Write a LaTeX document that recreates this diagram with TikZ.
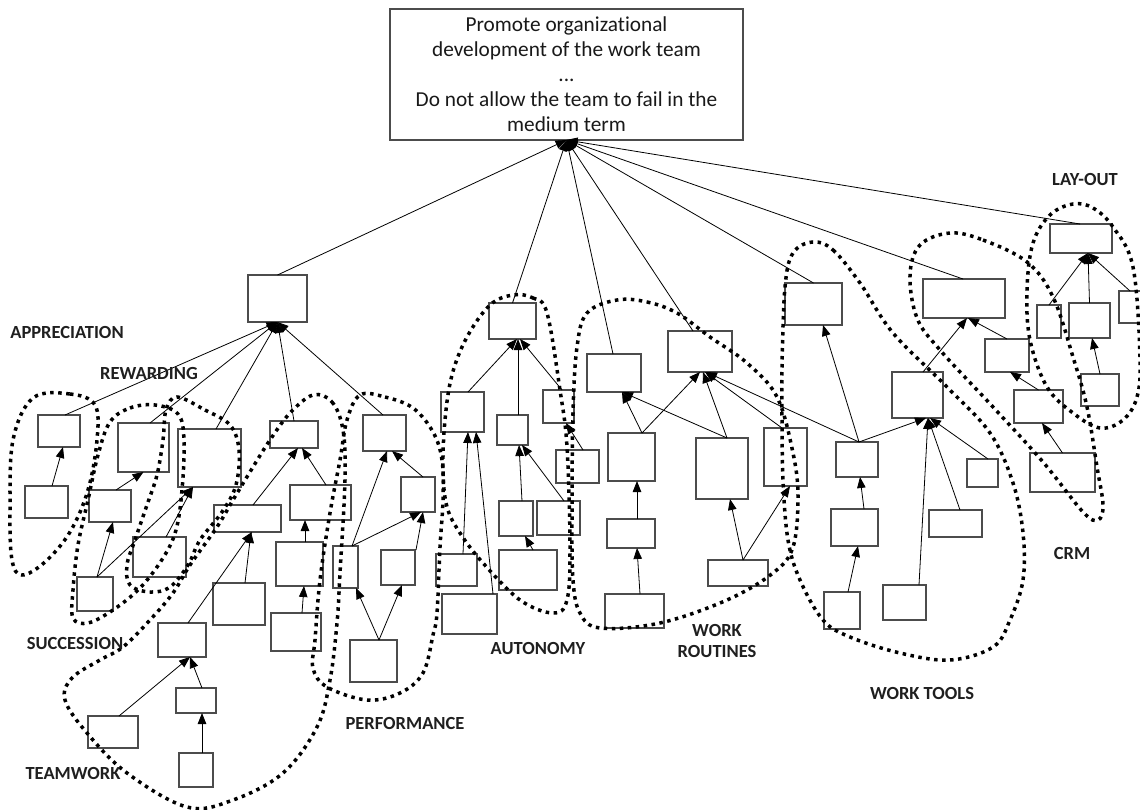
\documentclass[tikz,border=0pt]{standalone}
\usepackage{fontspec}
\setmainfont{Carlito}[Ligatures=NoCommon]
\usetikzlibrary{arrows.meta}
\newcommand{\bx}[5]{\node[bx,minimum width={(#4)-(#2)},minimum height={(#5)-(#3)}] (#1) at ({((#2)+(#4))/2},{((#3)+(#5))/2}) {};}
\newcommand{\ed}[4]{\draw[conn] ([xshift=#2pt]#1.north) -- ([xshift=#4pt]#3.south);}
\begin{document}
\begin{tikzpicture}[x=1pt,y=-1pt,
  bx/.style={draw=black!70,line width=1.1pt,fill=white,inner sep=0pt,outer sep=0pt},
  conn/.style={-{Triangle[length=11pt,width=8.5pt]},line width=0.8pt,black},
  loopline/.style={line width=3.5pt,dash pattern=on 3.5pt off 4.5pt,black},
  lbl/.style={font=\bfseries\fontsize{18.5}{21.5}\selectfont,text=black!88,align=center}]
\useasboundingbox (0,0) rectangle (1140,810);
% top box
\node[bx,minimum width=353,minimum height=131,align=center,font=\fontsize{21.3}{25}\selectfont,text=black!90] (T) at (566.5,74.5)
 {Promote organizational\\development of the work team\\...\\Do not allow the team to fail in the\\medium term};
% boxes
\bx{A0}{248}{275}{307}{322}
\bx{B1}{38}{415}{80}{447}
\bx{B2}{25}{486}{68}{518}
\bx{B3}{118}{423}{169}{472}
\bx{B4}{178}{429}{241}{487}
\bx{B5}{270}{421}{318}{448}
\bx{B6}{89}{490}{131}{522}
\bx{B7}{214}{505}{281}{532}
\bx{B8}{290}{485}{351}{520}
\bx{B9}{276}{542}{323}{586}
\bx{B10}{133}{537}{186}{577}
\bx{B11}{77}{577}{113}{611}
\bx{B12}{271}{613}{321}{651}
\bx{T1}{213}{583}{265}{625}
\bx{T2}{158}{623}{206}{657}
\bx{T3}{176}{688}{216}{713}
\bx{T4}{88}{716}{138}{748}
\bx{T5}{179}{753}{213}{787}
\bx{P0}{363}{415}{406}{451}
\bx{P1}{401}{477}{435}{512}
\bx{P2}{333}{546}{358}{588}
\bx{P3}{381}{550}{415}{585}
\bx{P4}{350}{640}{397}{682}
\bx{U0}{489}{303}{536}{339}
\bx{U1}{441}{392}{484}{432}
\bx{U2}{497}{415}{528}{445}
\bx{U3}{543}{390}{574}{423}
\bx{U4}{556}{450}{599}{483}
\bx{U5}{499}{501}{533}{536}
\bx{U6}{537}{501}{580}{535}
\bx{U7}{499}{550}{557}{590}
\bx{U8}{436}{554}{477}{586}
\bx{U9}{442}{594}{497}{634}
\bx{R0}{587}{354}{641}{392}
\bx{R1}{668}{331}{732}{372}
\bx{R2}{608}{433}{655}{481}
\bx{R3}{696}{438}{748}{499}
\bx{R4}{764}{428}{807}{486}
\bx{R5}{607}{519}{655}{548}
\bx{R6}{605}{594}{664}{628}
\bx{R7}{708}{560}{768}{586}
\bx{W0}{785}{283}{842}{325}
\bx{W1}{836}{442}{878}{477}
\bx{W2}{892}{372}{943}{418}
\bx{W3}{831}{509}{878}{546}
\bx{W4}{967}{459}{998}{487}
\bx{W5}{929}{510}{982}{537}
\bx{W6}{824}{592}{860}{629}
\bx{W7}{883}{585}{926}{620}
\bx{C0}{923}{279}{1005}{318}
\bx{C1}{985}{339}{1029}{372}
\bx{C2}{1014}{390}{1063}{423}
\bx{C3}{1030}{453}{1095}{492}
\bx{L0}{1050}{224}{1112}{253}
\bx{L1}{1037}{305}{1061}{338}
\bx{L2}{1069}{303}{1110}{338}
\bx{L3}{1119}{291}{1150}{323}
\bx{L4}{1081}{374}{1119}{406}
% connectors to the top box
\ed{A0}{0}{T}{0}
\ed{U0}{0}{T}{0}
\ed{R0}{-1}{T}{0}
\ed{R1}{-7}{T}{0}
\ed{W0}{0}{T}{0}
\ed{C0}{-1}{T}{0}
\ed{L0}{-1}{T}{0}
% appreciation / rewarding / succession / teamwork / performance
\ed{B1}{6}{A0}{0}
\ed{B3}{6.5}{A0}{0}
\ed{B4}{6.5}{A0}{0}
\ed{B5}{0}{A0}{0}
\ed{P0}{-1.5}{A0}{0}
\ed{B2}{5.5}{B1}{4}
\ed{B6}{6}{B3}{0}
\ed{B11}{2}{B6}{3}
\ed{B11}{2}{B4}{-16.5}
\ed{B10}{6.5}{B4}{-16.5}
\ed{B7}{5.5}{B5}{4}
\ed{B8}{5.5}{B5}{8}
\ed{B9}{5.5}{B8}{-15.5}
\ed{B12}{6}{B9}{4.5}
\ed{T1}{6}{B7}{3.5}
\ed{T2}{6}{B7}{4.5}
\ed{T3}{6}{T2}{8}
\ed{T4}{6}{T2}{8}
\ed{T5}{6}{T3}{6}
\ed{P1}{5}{P0}{7.5}
\ed{P2}{6.5}{P0}{2.5}
\ed{P2}{6.5}{P1}{3}
\ed{P3}{18}{P1}{5}
\ed{P4}{5.5}{P2}{10.5}
\ed{P4}{5.5}{P3}{4}
% autonomy
\ed{U1}{5.5}{U0}{4.5}
\ed{U2}{5.5}{U0}{5.5}
\ed{U3}{3.5}{U0}{7.5}
\ed{U8}{6.5}{U1}{5.5}
\ed{U9}{23.5}{U1}{13.5}
\ed{U5}{6}{U2}{6.5}
\ed{U6}{5.5}{U2}{9.5}
\ed{U7}{5}{U5}{9}
\ed{U4}{5.5}{U3}{7.5}
% work routines
\ed{R2}{10.5}{R0}{8}
\ed{R3}{5}{R0}{8}
\ed{R2}{10.5}{R1}{0}
\ed{R3}{5}{R1}{3}
\ed{R4}{-3.5}{R1}{5}
\ed{W1}{2}{R1}{6}
\ed{R5}{6}{R2}{5.5}
\ed{R6}{5.5}{R5}{6}
\ed{R7}{5}{R3}{8}
\ed{R7}{5}{R4}{4.5}
% work tools
\ed{W1}{2}{W0}{9.5}
\ed{W1}{2}{W2}{8.5}
\ed{W4}{5.5}{W2}{12.5}
\ed{W5}{4.5}{W2}{10.5}
\ed{W7}{14.5}{W2}{10.5}
\ed{W3}{9.5}{W1}{3}
\ed{W6}{6}{W3}{3.5}
% CRM
\ed{W2}{5.5}{C0}{3}
\ed{C1}{0}{C0}{4}
\ed{C2}{0}{C1}{3}
\ed{C3}{0}{C2}{3.5}
% lay-out
\ed{L1}{0}{L0}{7}
\ed{L2}{0}{L0}{7}
\ed{L3}{-4.5}{L0}{7}
\ed{L4}{0}{L2}{2.5}
% dotted loops
\draw[loopline] plot[smooth cycle,tension=0.6] coordinates {(33,398) (70,394) (95,405) (97,440) (88,490) (70,532) (45,562) (22,575) (12,560) (10,510) (13,440)};
\draw[loopline] plot[smooth cycle,tension=0.6] coordinates {(110,422) (130,408) (155,405) (178,414) (184,440) (182,490) (176,530) (163,558) (140,588) (113,610) (88,623) (73,618) (73,590) (78,545) (88,500) (98,455)};
\draw[loopline] plot[smooth cycle,tension=0.6] coordinates {(177,397) (205,410) (230,425) (239,450) (236,485) (222,512) (200,540) (188,565) (170,587) (150,592) (130,585) (127,565) (135,540) (147,505) (157,475) (163,440) (166,410)};
\draw[loopline] plot[smooth cycle,tension=0.6] coordinates {(313,395) (332,402) (343,430) (345,480) (340,573) (337,623) (330,680) (317,727) (283,773) (233,800) (187,807) (127,773) (87,733) (65,700) (72,678) (100,660) (123,647) (150,620) (173,593) (190,565) (217,527) (233,500) (253,467) (270,440) (290,413)};
\draw[loopline] plot[smooth cycle,tension=0.6] coordinates {(360,395) (385,397) (413,408) (433,432) (442,460) (443,500) (440,547) (437,613) (433,635) (423,673) (400,693) (367,700) (327,687) (313,668) (315,640) (320,580) (330,513) (340,460) (347,420)};
\draw[loopline] plot[smooth cycle,tension=0.6] coordinates {(513,295) (533,298) (547,313) (560,390) (567,447) (570,547) (567,600) (553,613) (520,600) (483,563) (460,533) (447,507) (443,470) (445,420) (452,375) (467,337) (490,305)};
\draw[loopline] plot[smooth cycle,tension=0.6] coordinates {(617,300) (647,302) (677,313) (710,337) (747,363) (777,397) (793,453) (798,497) (793,547) (773,573) (727,600) (660,623) (600,628) (580,613) (573,580) (572,513) (573,413) (577,347) (587,313)};
\draw[loopline] plot[smooth cycle,tension=0.6] coordinates {(813,242) (833,250) (860,283) (893,333) (947,387) (990,433) (1013,483) (1023,533) (1023,580) (1010,620) (993,647) (950,660) (900,653) (850,637) (823,620) (800,580) (788,540) (783,480) (782,417) (782,367) (785,287) (793,253)};
\draw[loopline] plot[smooth cycle,tension=0.6] coordinates {(950,233) (983,240) (1027,262) (1053,297) (1073,357) (1087,407) (1097,467) (1103,505) (1098,520) (1083,512) (1043,462) (993,407) (940,350) (917,318) (910,275) (920,245)};
\draw[loopline] plot[smooth cycle,tension=0.6] coordinates {(1073,204) (1093,208) (1113,227) (1133,267) (1140,357) (1137,397) (1123,420) (1100,428) (1073,413) (1047,387) (1030,340) (1027,290) (1033,243) (1050,215)};
% labels
\node[lbl] (lapp) at (67,332) {APPRECIATION};
\node[lbl] (lrew) at (149,373) {REWARDING};
\node[lbl] (lsuc) at (75,643) {SUCCESSION};
\node[lbl] (ltea) at (73,773) {TEAMWORK};
\node[lbl] (lper) at (405,723) {PERFORMANCE};
\node[lbl] (laut) at (538,648) {AUTONOMY};
\node[lbl] (lwr) at (717,641) {WORK\\ROUTINES};
\node[lbl] (lwt) at (922,693) {WORK TOOLS};
\node[lbl] (lcrm) at (1072,553) {CRM};
\node[lbl] (llay) at (1085,180) {LAY-OUT};
\end{tikzpicture}
\end{document}
